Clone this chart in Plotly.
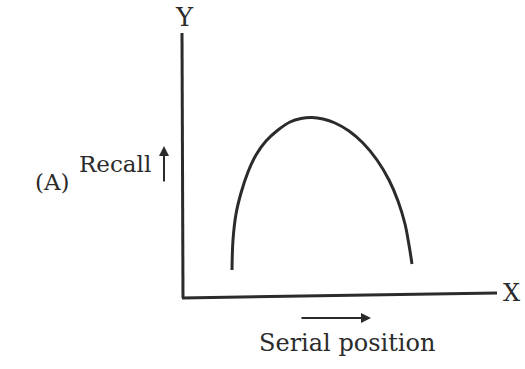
import plotly.graph_objects as go

# Diagram drawn in a 525 x 369 frame (y grows downward)
curve_x = [232, 233, 236, 241, 248, 256, 266, 278, 290, 301, 312, 323, 335, 349, 363, 377, 389, 398, 405, 409, 412]
curve_y = [270, 240, 214, 193, 172, 155, 141, 130, 122, 118.5, 117.5, 119, 123, 131, 143, 160, 180, 201, 224, 245, 264]

y_axis_x = [182, 183]
y_axis_y = [33, 298]
x_axis_x = [182, 497]
x_axis_y = [298, 293]

ink = "#2b2b2b"
serif = "DejaVu Serif"

fig = go.Figure()

# Axes
fig.add_trace(go.Scatter(x=y_axis_x, y=y_axis_y, mode="lines",
                         line=dict(color=ink, width=3), hoverinfo="skip"))
fig.add_trace(go.Scatter(x=x_axis_x, y=x_axis_y, mode="lines",
                         line=dict(color=ink, width=3), hoverinfo="skip"))

# Inverted-U recall curve
fig.add_trace(go.Scatter(x=curve_x, y=curve_y, mode="lines", line_shape="spline",
                         line=dict(color=ink, width=3, smoothing=1.0), hoverinfo="skip"))

annotations = [
    dict(x=184, y=17, text="Y", font=dict(size=26)),
    dict(x=511, y=293, text="X", font=dict(size=24)),
    dict(x=52, y=182, text="(A)", font=dict(size=23)),
    dict(x=115, y=164, text="Recall", font=dict(size=23)),
    dict(x=347, y=343, text="Serial position", font=dict(size=24)),
    # up arrow next to "Recall"
    dict(x=164, y=146, ax=164, ay=183, axref="x", ayref="y", text="",
         showarrow=True, arrowhead=2, arrowsize=1, arrowwidth=2, arrowcolor=ink),
    # right arrow under the x axis
    dict(x=371, y=318, ax=300, ay=318, axref="x", ayref="y", text="",
         showarrow=True, arrowhead=2, arrowsize=1, arrowwidth=2, arrowcolor=ink),
]
for a in annotations:
    a.setdefault("showarrow", False)
    a["xref"] = "x"
    a["yref"] = "y"
    if "font" in a:
        a["font"].update(family=serif, color=ink)

fig.update_layout(
    width=525, height=369,
    margin=dict(l=0, r=0, t=0, b=0),
    paper_bgcolor="white", plot_bgcolor="white",
    showlegend=False,
    xaxis=dict(range=[0, 525], visible=False, fixedrange=True),
    yaxis=dict(range=[369, 0], visible=False, fixedrange=True),
    annotations=annotations,
)

# drop the page's default body margin so the figure sits at the window's corner
fig.write_html("out.html", config={"displayModeBar": False},
               post_script="document.body.style.margin='0';")
